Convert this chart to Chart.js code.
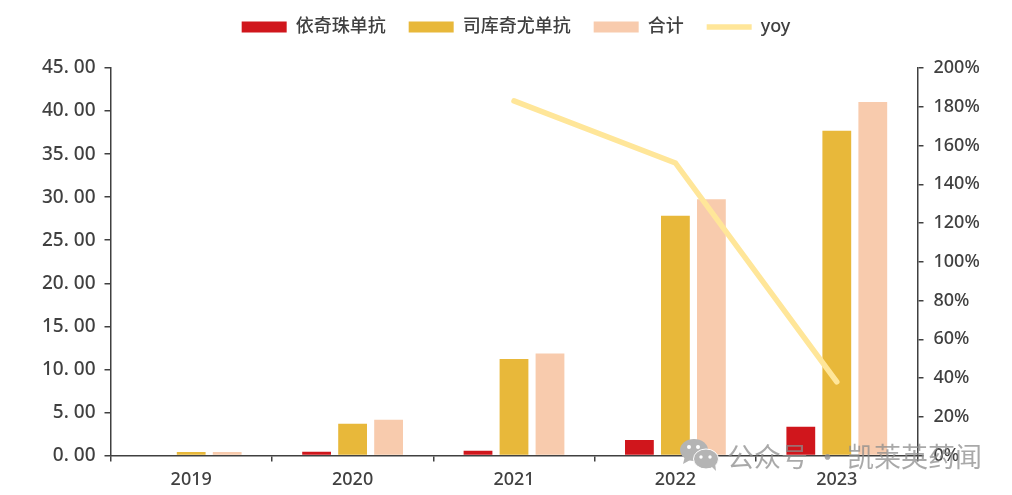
<!DOCTYPE html>
<html>
<head>
<meta charset="utf-8">
<script src="https://cdn.jsdelivr.net/npm/chart.js@4"></script>
<style>
    html, body { margin: 0; padding: 0; background: #fff; }
    #wrap { position: relative; width: 1012px; height: 495px; overflow: hidden; }
    #mark { position: absolute; left: 680px; top: 439px; height: 32px; display: flex; align-items: center; pointer-events: none; }
    #mark span { margin-left: 8px; font: 27px/32px "Noto Sans CJK SC"; word-spacing: 0; color: rgba(140, 140, 140, 0.75); white-space: nowrap; position: relative; top: 1px; }
</style>
</head>
<body>
<div id="wrap">
    <canvas id="salesChart" width="1012" height="495"></canvas>
    <div id="mark">
        <svg width="39" height="32" viewBox="0 0 39 32">
            <ellipse cx="14" cy="11" rx="14" ry="11" fill="#b4b4b4"/>
            <path d="M5 17 L3 25 L12 20 Z" fill="#b4b4b4"/>
            <ellipse cx="26" cy="20" rx="12.5" ry="10" fill="#b4b4b4" stroke="#fff" stroke-width="1"/>
            <path d="M31 27 L36 32 L35 24 Z" fill="#b4b4b4"/>
            <circle cx="9" cy="8" r="2" fill="#fff"/><circle cx="18" cy="8" r="2" fill="#fff"/>
            <circle cx="21" cy="18" r="1.7" fill="#fff"/><circle cx="30" cy="18" r="1.7" fill="#fff"/>
        </svg>
        <span>公众号 · 凯莱英药闻</span>
    </div>
</div>
<script>
const years = ['2019', '2020', '2021', '2022', '2023'];
const ixekizumab = [0, 0.45, 0.55, 1.8, 3.35];
const secukinumab = [0.4, 3.7, 11.2, 27.85, 37.7];
const total = [0.4, 4.15, 11.85, 29.75, 41.05];
const yoy = [null, null, 1.83, 1.51, 0.38];

const textColor = '#404040';
const axisColor = '#404040';
const fontFamily = '"Noto Sans", "Noto Sans CJK SC", sans-serif';

function barSet(label, data, color) {
    return {
        type: 'bar',
        label: label,
        data: data,
        backgroundColor: color,
        borderWidth: 0,
        yAxisID: 'y',
        categoryPercentage: 0.669,
        barPercentage: 0.8,
        pointStyle: 'rect',
        order: 1
    };
}

// legend sits higher than the default, keep the gap above the plot
const legendGap = {
    id: 'legendGap',
    beforeInit(chart) {
        const fit = chart.legend.fit;
        chart.legend.fit = function () {
            fit.call(this);
            this.height += 22;
        };
    }
};

new Chart(document.getElementById('salesChart'), {
    plugins: [legendGap],
    data: {
        labels: years,
        datasets: [
            barSet('依奇珠单抗', ixekizumab, '#D0161C'),
            barSet('司库奇尤单抗', secukinumab, '#E8B83A'),
            barSet('合计', total, '#F8CBAD'),
            {
                type: 'line',
                label: 'yoy',
                data: yoy,
                borderColor: '#FFE699',
                backgroundColor: '#FFE699',
                borderWidth: 5.5,
                borderCapStyle: 'round',
                pointRadius: 0,
                pointStyle: 'line',
                yAxisID: 'y1',
                order: 0
            }
        ]
    },
    options: {
        responsive: false,
        animation: false,
        layout: { padding: { top: -5, left: 20, right: 0, bottom: 0 } },
        plugins: {
            tooltip: { enabled: false },
            legend: {
                position: 'top',
                labels: {
                    usePointStyle: true,
                    pointStyleWidth: 45,
                    boxHeight: 11,
                    padding: 23,
                    color: textColor,
                    font: { family: fontFamily, size: 18, weight: '500' },
                    sort: (a, b) => a.datasetIndex - b.datasetIndex
                }
            }
        },
        scales: {
            x: {
                border: { color: axisColor, width: 1.5 },
                grid: { offset: true, drawOnChartArea: false, color: axisColor, tickLength: 6, lineWidth: 1.5 },
                ticks: { color: textColor, font: { family: fontFamily, size: 18, weight: '500' }, padding: 8 },
                afterFit: (s) => { s.height = 39.5; }
            },
            y: {
                position: 'left',
                min: 0,
                max: 45,
                border: { color: axisColor, width: 1.5 },
                grid: { drawOnChartArea: false, color: axisColor, tickLength: 6, lineWidth: 1.5 },
                ticks: {
                    stepSize: 5,
                    color: textColor,
                    padding: 9,
                    font: { family: fontFamily, size: 19, weight: '500' },
                    callback: (v) => v.toFixed(2).replace('.', '. ')
                },
                afterFit: (s) => { s.width = 90.5; }
            },
            y1: {
                position: 'right',
                min: 0,
                max: 2,
                border: { color: axisColor, width: 1.5 },
                grid: { drawOnChartArea: false, color: axisColor, tickLength: 6, lineWidth: 1.5 },
                ticks: {
                    stepSize: 0.2,
                    color: textColor,
                    padding: 10,
                    font: { family: fontFamily, size: 18, weight: '500' },
                    callback: (v) => Math.round(v * 100) + '%'
                },
                afterFit: (s) => { s.width = 94.5; }
            }
        }
    }
});
</script>
</body>
</html>
